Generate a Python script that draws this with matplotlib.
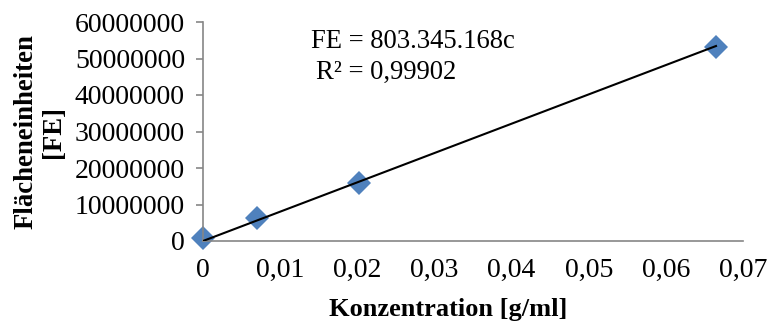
import numpy as np
import matplotlib.pyplot as plt
from matplotlib.ticker import FuncFormatter

# Kalibrierdaten
konz = [0.0, 0.0070, 0.0202, 0.0665]
flaeche = [800000, 6300000, 15900000, 53200000]
slope = 803345168
x_ticks = [0, 0.01, 0.02, 0.03, 0.04, 0.05, 0.06, 0.07]
y_ticks = [0, 10000000, 20000000, 30000000, 40000000, 50000000, 60000000]

plt.rcParams['font.family'] = ['Liberation Serif', 'DejaVu Serif']

fig = plt.figure(figsize=(7.69, 3.25), dpi=100)
ax = fig.add_axes([203/769, 1 - 241/325, 540/769, 219/325])

# Trendlinie durch den Ursprung
x_fit = np.array([0, max(konz)])
ax.plot(x_fit, slope * x_fit, color="black", lw=1.5, zorder=3)
ax.plot(konz, flaeche, linestyle="none", marker="D", markersize=12,
        color="#4F81BD", markeredgewidth=0, zorder=2, clip_on=False)

ax.set_xlim(0, 0.07)
ax.set_ylim(0, 60000000)
ax.set_xticks(x_ticks)
ax.set_yticks(y_ticks)
ax.xaxis.set_major_formatter(FuncFormatter(lambda v, p: "0" if v == 0 else ("%.2f" % v).replace(".", ",")))
ax.yaxis.set_major_formatter(FuncFormatter(lambda v, p: "%d" % v))

for s in ["top", "right"]:
    ax.spines[s].set_visible(False)
for s in ["left", "bottom"]:
    ax.spines[s].set_color("#868686")
    ax.spines[s].set_linewidth(1.2)

ax.tick_params(axis="y", length=5, width=1.2, color="#868686", labelsize=20, pad=8)
ax.tick_params(axis="x", length=0, labelsize=20, pad=12)

fig.text(448/769, 1 - 316/325, "Konzentration [g/ml]", ha="center", va="baseline",
         fontsize=19, fontweight="bold")
fig.text(40/769, 1 - 131.5/325, "Flächeneinheiten\n[FE]", ha="center", va="center",
         rotation=90, multialignment="center", fontsize=19.3, fontweight="bold",
         linespacing=1.15)

fig.text(311/769, 1 - 48/325, "FE = 803.345.168c", ha="left", va="baseline", fontsize=19.2)
fig.text(316/769, 1 - 79/325, "R² = 0,99902", ha="left", va="baseline", fontsize=19.2)

fig.savefig("out.png", dpi=100)
